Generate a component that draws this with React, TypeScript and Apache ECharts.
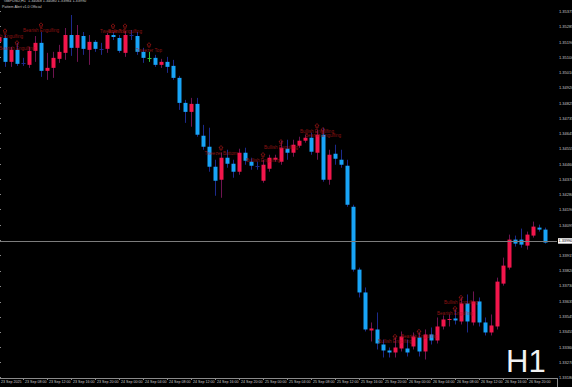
import React, { useEffect, useRef } from "react";
import * as echarts from "echarts";

// ---- data (GBPUSD H1) ----
const opens = [
  1.35194, 1.35217, 1.35074, 1.35146, 1.35068, 1.35056, 1.3514, 1.35188, 1.3502, 1.35038,
  1.35092, 1.35128, 1.35235, 1.35158, 1.35229, 1.35146, 1.35194, 1.35152, 1.35152, 1.35235,
  1.35217, 1.35128, 1.35235, 1.35229, 1.35134, 1.35098, 1.35098, 1.35056, 1.35074, 1.3505,
  1.34978, 1.34828, 1.34774, 1.34822, 1.34631, 1.34565, 1.34445, 1.34367, 1.34499, 1.34463,
  1.34415, 1.34529, 1.34475, 1.34451, 1.34361, 1.34433, 1.34487, 1.34475, 1.34553, 1.34529,
  1.34571, 1.34601, 1.34619, 1.34529, 1.34637, 1.34367, 1.34523, 1.34487, 1.34451, 1.34205,
  1.33828, 1.33691, 1.33463, 1.33469, 1.33379, 1.33343, 1.33331, 1.33355, 1.33355, 1.33367,
  1.33421, 1.33337, 1.33439, 1.33403, 1.33487, 1.33527, 1.33535, 1.33517, 1.33625, 1.33511,
  1.33637, 1.33511, 1.33451, 1.33487, 1.33744, 1.3384, 1.34008, 1.34008, 1.33972, 1.34032,
  1.3408, 1.34068,
];
const closes = [
  1.35223, 1.35074, 1.35146, 1.35062, 1.35066, 1.3514, 1.35188, 1.3502, 1.35038, 1.35098,
  1.35134, 1.35235, 1.35158, 1.35235, 1.35152, 1.35194, 1.35152, 1.3515, 1.35235, 1.35223,
  1.3514, 1.35235, 1.35233, 1.35134, 1.35098, 1.35098, 1.35056, 1.35074, 1.35044, 1.34978,
  1.34828, 1.34774, 1.34822, 1.34637, 1.34565, 1.34445, 1.34361, 1.34499, 1.34463, 1.34415,
  1.34529, 1.34481, 1.34451, 1.34449, 1.34457, 1.34499, 1.34499, 1.34559, 1.34529, 1.34577,
  1.34601, 1.34619, 1.34535, 1.34637, 1.34367, 1.34517, 1.34493, 1.34457, 1.34217, 1.33828,
  1.33691, 1.33469, 1.33475, 1.33385, 1.33343, 1.33331, 1.33361, 1.33427, 1.33331, 1.33427,
  1.33337, 1.33439, 1.33403, 1.33487, 1.33529, 1.33529, 1.33523, 1.33625, 1.33517, 1.33637,
  1.33511, 1.33451, 1.33493, 1.33756, 1.33852, 1.34008, 1.33984, 1.33978, 1.34038, 1.34086,
  1.34068, 1.3399,
];
const lows = [
  1.35176, 1.35044, 1.35044, 1.3505, 1.3505, 1.35038, 1.35074, 1.34984, 1.34966, 1.34978,
  1.35068, 1.35086, 1.3511, 1.35074, 1.35116, 1.35056, 1.35134, 1.35116, 1.35128, 1.35205,
  1.35128, 1.35104, 1.35205, 1.35116, 1.35068, 1.35074, 1.35044, 1.35038, 1.35008, 1.34966,
  1.34786, 1.34708, 1.34685, 1.34625, 1.34547, 1.34415, 1.34271, 1.34259, 1.34439, 1.34379,
  1.34397, 1.34457, 1.34427, 1.34427, 1.34349, 1.34415, 1.34475, 1.34457, 1.34487, 1.34505,
  1.34559, 1.34589, 1.34517, 1.34487, 1.34355, 1.34337, 1.34457, 1.34439, 1.34205, 1.33816,
  1.33661, 1.33457, 1.33397, 1.33349, 1.33301, 1.33301, 1.33301, 1.33337, 1.33307, 1.33349,
  1.33307, 1.33289, 1.33379, 1.33385, 1.33469, 1.33487, 1.33499, 1.33499, 1.33451, 1.33493,
  1.33487, 1.33433, 1.33433, 1.33469, 1.33732, 1.33828, 1.33966, 1.3396, 1.33948, 1.3402,
  1.34056, 1.33984,
];
const highs = [
  1.35247, 1.35235, 1.35164, 1.35188, 1.35098, 1.35164, 1.35229, 1.35253, 1.35128, 1.35134,
  1.35176, 1.35277, 1.35355, 1.35295, 1.35253, 1.35235, 1.35205, 1.35188, 1.35247, 1.35253,
  1.35235, 1.35259, 1.35265, 1.35253, 1.35158, 1.35134, 1.35116, 1.35092, 1.35104, 1.35086,
  1.3499, 1.34846, 1.34858, 1.34858, 1.34696, 1.34679, 1.34487, 1.34529, 1.34547, 1.34487,
  1.34553, 1.34559, 1.34499, 1.34475, 1.34487, 1.34517, 1.34517, 1.34601, 1.34607, 1.34607,
  1.34625, 1.34637, 1.34649, 1.34667, 1.34679, 1.34547, 1.34577, 1.34547, 1.34487, 1.34217,
  1.3384, 1.33721, 1.33511, 1.33571, 1.33409, 1.33361, 1.33421, 1.33457, 1.33409, 1.33451,
  1.33451, 1.33469, 1.33481, 1.33541, 1.33553, 1.33559, 1.33589, 1.33661, 1.33679, 1.33697,
  1.33661, 1.33541, 1.33559, 1.3378, 1.339, 1.34038, 1.34032, 1.34074, 1.34056, 1.34116,
  1.34098, 1.3408,
];

const timeLabels = [
  "23 Sep 2025", "23 Sep 08:00", "23 Sep 12:00", "23 Sep 16:00", "23 Sep 20:00",
  "24 Sep 00:00", "24 Sep 04:00", "24 Sep 08:00", "24 Sep 12:00", "24 Sep 16:00",
  "24 Sep 20:00", "25 Sep 00:00", "25 Sep 04:00", "25 Sep 08:00", "25 Sep 12:00",
  "25 Sep 16:00", "25 Sep 20:00", "26 Sep 00:00", "26 Sep 04:00", "26 Sep 08:00",
  "26 Sep 12:00", "26 Sep 16:00", "26 Sep 20:00",
];
const BARS_PER_TIME_LABEL = 4;

const priceTicks = [
  "1.35375", "1.35285", "1.35190", "1.35100", "1.35010", "1.34920", "1.34825", "1.34735",
  "1.34645", "1.34555", "1.34460", "1.34370", "1.34280", "1.34190", "1.34095", "1.34005",
  "1.33915", "1.33820", "1.33730", "1.33635", "1.33545", "1.33455", "1.33360", "1.33270",
  "1.33180",
];

const patternBars = [1, 3, 7, 19, 21, 25, 37, 44, 47, 53, 54, 66, 70, 76, 77];
const patternPrices = [
  1.35259, 1.35188, 1.35295, 1.35289, 1.35289, 1.35176, 1.34559, 1.34517, 1.34595, 1.34691,
  1.34667, 1.33427, 1.33457, 1.33595, 1.33661,
];
const patternNames = [
  "Bearish Engulfing", "Bearish Engulfing", "Bearish Engulfing", "Tweezer Top",
  "Bullish Engulfing", "Tweezer Top", "Tweezer Bottom", "Bullish Engulfing",
  "Bullish Engulfing", "Bullish Engulfing", "Bearish Engulfing", "Bullish Engulfing",
  "Bearish Engulfing", "Bearish Engulfing", "Bullish Engulfing",
];

const SYMBOL = "GBPUSD,H1";
const INDICATOR = "Pattern Alert v1.0 Official";

// ---- styles ----
const BULL_BODY = "#F2164C";
const BULL_WICK = "#6E1450";
const BEAR_BODY = "#18A4F7";
const BEAR_WICK = "#1C2A8C";
const SPECIAL_DOJI: Record<number, string> = { 25: "#2FBF3A" };
const AXIS_GRAY = "#8A8A8A";
const TEXT_GRAY = "#C8C8C8";
const PATTERN_RED = "#B01818";
const FONT = '"Liberation Sans", Arial, sans-serif';

export default function App() {
  const ref = useRef<HTMLDivElement>(null);

  useEffect(() => {
    if (!ref.current) return;
    const chart = echarts.init(ref.current, undefined, { renderer: "svg" });
    const n = opens.length;
    const last = n - 1;
    const candles = opens.map((o, i) => [i, o, closes[i], lows[i], highs[i]]);
    const patterns = patternBars.map((b, i) => [b, patternPrices[i], patternNames[i]]);
    const timeTickValues = timeLabels.map((_, i) => i * BARS_PER_TIME_LABEL);
    const priceTickValues = priceTicks.map(Number);
    const fmt = (v: number) => v.toFixed(5);

    const renderCandle = (_params: any, api: any) => {
      const j = api.value(0);
      const o = api.value(1);
      const c = api.value(2);
      const l = api.value(3);
      const h = api.value(4);
      const pO = api.coord([j, o]);
      const pC = api.coord([j, c]);
      const pL = api.coord([j, l]);
      const pH = api.coord([j, h]);
      const cx = Math.round(pO[0]);
      const bull = c > o;
      const doji = Math.abs(c - o) < 0.000025;
      const special = SPECIAL_DOJI[j];
      const wick = special || (bull ? BULL_WICK : BEAR_WICK);
      const bodyColor = special || (doji ? (bull ? BULL_BODY : BEAR_WICK) : bull ? BULL_BODY : BEAR_BODY);
      const top = Math.min(pO[1], pC[1]);
      const bot = Math.max(pO[1], pC[1]);
      const children: any[] = [
        {
          type: "line",
          shape: { x1: cx + 0.5, y1: pH[1], x2: cx + 0.5, y2: pL[1] },
          style: { stroke: wick, lineWidth: 1 },
        },
      ];
      if (doji) {
        const yy = Math.round(pC[1]) + 0.5;
        children.push({
          type: "line",
          shape: { x1: cx - 1.5, y1: yy, x2: cx + 2.5, y2: yy },
          style: { stroke: bodyColor, lineWidth: 1 },
        });
      } else {
        children.push({
          type: "rect",
          shape: { x: cx - 1.5, y: top, width: 4, height: Math.max(1, bot - top) },
          style: { fill: bodyColor },
        });
      }
      return { type: "group", children };
    };

    chart.setOption({
      animation: false,
      backgroundColor: "#000000",
      textStyle: { fontFamily: FONT },
      grid: { left: -4, top: 0, width: 561, height: 378, outerBoundsMode: "none" },
      xAxis: {
        type: "value",
        min: -0.5,
        max: 93,
        axisLine: { show: true, lineStyle: { color: AXIS_GRAY, width: 1 } },
        axisTick: {
          show: true,
          customValues: timeTickValues,
          length: 2,
          lineStyle: { color: AXIS_GRAY },
        },
        axisLabel: {
          show: true,
          customValues: timeTickValues,
          formatter: (v: number) => timeLabels[Math.round(v / BARS_PER_TIME_LABEL)] ?? "",
          align: "left",
          padding: [0, 0, 0, 2],
          margin: 1.5,
          fontSize: 3.6,
          color: TEXT_GRAY,
          fontFamily: FONT,
        },
        splitLine: { show: false },
      },
      yAxis: {
        type: "value",
        position: "right",
        min: 1.33178,
        max: 1.35445,
        scale: true,
        axisLine: { show: true, lineStyle: { color: AXIS_GRAY, width: 1 } },
        axisTick: {
          show: true,
          customValues: priceTickValues,
          length: 2,
          lineStyle: { color: AXIS_GRAY },
        },
        axisLabel: {
          show: true,
          customValues: priceTickValues,
          formatter: (v: number) => fmt(v),
          margin: 2,
          fontSize: 4,
          color: TEXT_GRAY,
          fontFamily: FONT,
        },
        splitLine: { show: false },
      },
      series: [
        {
          type: "custom",
          name: SYMBOL,
          data: candles,
          encode: { x: 0, y: [1, 2, 3, 4] },
          renderItem: renderCandle,
          clip: true,
          z: 3,
        },
        {
          type: "scatter",
          name: INDICATOR,
          data: patterns,
          symbol: "path://M2,0 L4,2 L3,2 L3,4 L1,4 L1,2 L0,2 Z",
          symbolSize: [4, 4.5],
          itemStyle: { color: "rgba(0,0,0,0)", borderColor: PATTERN_RED, borderWidth: 0.8 },
          label: {
            show: true,
            position: "bottom",
            distance: 0.3,
            formatter: (p: any) => p.value[2],
            color: PATTERN_RED,
            fontSize: 4.6,
            fontFamily: FONT,
          },
          z: 4,
          silent: true,
          markLine: {
            silent: true,
            symbol: "none",
            animation: false,
            lineStyle: { color: "#7C7C7C", width: 1, type: "solid" },
            label: {
              show: true,
              position: "end",
              distance: 1,
              formatter: () => fmt(closes[last]),
              backgroundColor: "#FFFFFF",
              color: "#000000",
              fontSize: 3.8,
              padding: [1, 0.5, 0.5, 0.5],
              fontFamily: FONT,
            },
            data: [{ yAxis: closes[last] }],
          },
        },
      ],
      graphic: [
        {
          type: "line",
          shape: { x1: 557.5, y1: 378, x2: 557.5, y2: 387 },
          style: { stroke: AXIS_GRAY, lineWidth: 1 },
        },
        {
          type: "text",
          left: 4,
          top: -1.5,
          style: {
            text: `${SYMBOL}  ${fmt(opens[last])} ${fmt(highs[last])} ${fmt(lows[last])} ${fmt(closes[last])}`,
            fill: TEXT_GRAY,
            fontSize: 3.8,
            fontFamily: FONT,
          },
        },
        {
          type: "text",
          left: 2,
          top: 4.5,
          style: { text: INDICATOR, fill: TEXT_GRAY, fontSize: 3.6, fontFamily: FONT },
        },
        {
          type: "text",
          left: 506,
          top: 346,
          style: { text: "H1", fill: "#F2F2F2", fontSize: 31, fontFamily: FONT },
        },
      ],
    });
    return () => chart.dispose();
  }, []);

  return (
    <div
      ref={ref}
      style={{ position: "fixed", left: 0, top: 0, width: 572, height: 387, background: "#000" }}
    />
  );
}
